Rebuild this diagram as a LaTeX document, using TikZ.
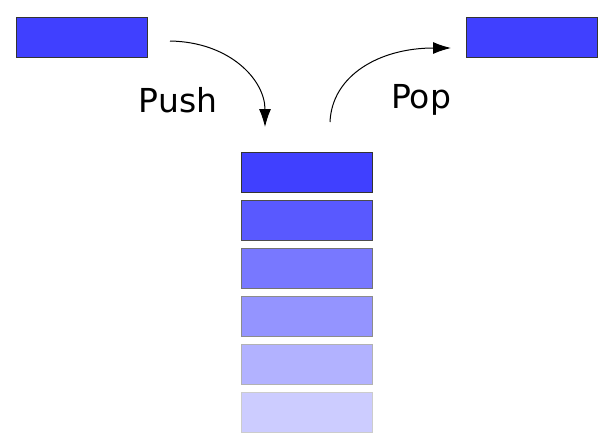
\documentclass[tikz,border=0pt]{standalone}
\usepackage{fontspec}
\setmainfont{DejaVu Sans}
\usetikzlibrary{arrows.meta}

\tikzset{
  slot/.style={rectangle, draw=black!#1, line width=1pt, minimum width=131pt, minimum height=40pt, inner sep=0pt},
  lbl/.style={font=\fontsize{33}{36}\selectfont},
  move/.style={-{Latex[length=18pt,width=12pt]}, line width=1pt}
}

\begin{document}
\begin{tikzpicture}[x=1pt,y=-1pt]
  \useasboundingbox (0,0) rectangle (602,445);

  % items outside the stack
  \node[slot=80, fill=blue!75!white] (inbox) at (81.5,37) {};
  \node[slot=80, fill=blue!75!white] (outbox) at (532,37) {};

  % the stack
  \foreach \i/\f/\d in {0/75/80, 1/65/70, 2/53/55, 3/42/45, 4/30/30, 5/20/20}
    \node[slot=\d, fill=blue!\f!white] (s\i) at (306.5,172+48*\i) {};

  \coordinate (pushA) at (170,41);
  \coordinate (pushB) at (265,127);
  \coordinate (popA) at (330,122);
  \coordinate (popB) at (451,48);

  \draw[move] (pushA) .. controls (230,42) and (265,80) .. (pushB);
  \draw[move] (popA) .. controls (332,75) and (380,48) .. (popB);

  \node[lbl] (pushlbl) at (178,100) {Push};
  \node[lbl] (poplbl) at (421,100) {Pop};
\end{tikzpicture}
\end{document}
